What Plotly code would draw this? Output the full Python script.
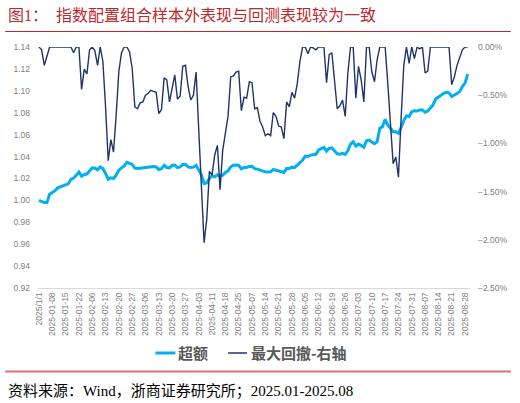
import plotly.graph_objects as go

# tick labels on the category axis (one every 5 trading days)
tick_labels = [
    "2025/1/1", "2025-01-08", "2025-01-15", "2025-01-22", "2025-02-06",
    "2025-02-13", "2025-02-20", "2025-02-27", "2025-03-06", "2025-03-13",
    "2025-03-20", "2025-03-27", "2025-04-03", "2025-04-11", "2025-04-18",
    "2025-04-25", "2025-05-07", "2025-05-14", "2025-05-21", "2025-05-28",
    "2025-06-05", "2025-06-12", "2025-06-19", "2025-06-26", "2025-07-03",
    "2025-07-10", "2025-07-17", "2025-07-24", "2025-07-31", "2025-08-07",
    "2025-08-14", "2025-08-21", "2025-08-28",
]

# excess return net value (left axis)
excess = [
    1.000, 0.999, 0.998, 0.998, 1.0056, 1.0072, 1.0087, 1.0114, 1.0123, 1.0136,
    1.0145, 1.0151, 1.0191, 1.0203, 1.0230, 1.0258, 1.0221, 1.0237, 1.0240, 1.0267,
    1.0297, 1.0294, 1.0279, 1.0306, 1.0291, 1.0246, 1.0191, 1.0206, 1.0200, 1.0230,
    1.0276, 1.0297, 1.0315, 1.0347, 1.0340, 1.0328, 1.0294, 1.0290, 1.0294, 1.0297,
    1.0303, 1.0306, 1.0306, 1.0310, 1.0306, 1.0282, 1.0290, 1.0320, 1.0300, 1.0297,
    1.0320, 1.0322, 1.0300, 1.0306, 1.0328, 1.0330, 1.0306, 1.0300, 1.0303, 1.0320,
    1.0276, 1.0230, 1.0154, 1.0160, 1.0200, 1.0224, 1.0215, 1.0233, 1.0220, 1.0230,
    1.0255, 1.0270, 1.0306, 1.0320, 1.0322, 1.0320, 1.0288, 1.0300, 1.0300, 1.0310,
    1.0312, 1.0290, 1.0285, 1.0276, 1.0270, 1.0260, 1.0258, 1.0260, 1.0282, 1.0276,
    1.0270, 1.0267, 1.0255, 1.0291, 1.0290, 1.0303, 1.0300, 1.0322, 1.0343, 1.0368,
    1.0404, 1.0400, 1.0413, 1.0416, 1.0420, 1.0460, 1.0475, 1.0484, 1.0450, 1.0475,
    1.0480, 1.0450, 1.0425, 1.0422, 1.0430, 1.0420, 1.0453, 1.0514, 1.0535, 1.0496,
    1.0514, 1.0500, 1.0484, 1.0544, 1.0550, 1.0533, 1.0517, 1.0535, 1.0658, 1.0673,
    1.0740, 1.0688, 1.0658, 1.0627, 1.0627, 1.0612, 1.0667, 1.0728, 1.0770, 1.0765,
    1.0810, 1.0818, 1.0815, 1.0826, 1.0826, 1.0805, 1.0815, 1.0847, 1.0872, 1.0926,
    1.0942, 1.0966, 1.0978, 1.0987, 1.0982, 1.0948, 1.0960, 1.0975, 1.0993, 1.1039,
    1.1070, 1.1153,
]

# max drawdown in percent (right axis)
drawdown_pct = [
    0, -0.03, -0.19, -0.09, 0, 0, 0, 0, 0, 0,
    0, 0, 0, -0.06, 0, 0, -0.44, -0.23, -0.28, -0.03,
    0, -0.04, -0.19, 0, -0.15, -0.62, -1.18, -0.96, -1.09, -0.70,
    -0.25, -0.06, 0, 0, -0.05, -0.22, -0.62, -0.64, -0.58, -0.57,
    -0.50, -0.48, -0.45, -0.46, -0.47, -0.69, -0.65, -0.32, -0.34, -0.57,
    -0.41, -0.29, -0.54, -0.51, -0.20, -0.19, -0.41, -0.55, -0.50, -0.26,
    -0.86, -1.41, -2.03, -1.79, -1.29, -1.33, -1.12, -1.02, -1.48, -1.07,
    -0.90, -0.72, -0.31, -0.30, -0.26, -0.25, -0.66, -0.52, -0.53, -0.36,
    -0.37, -0.64, -0.63, -0.77, -0.83, -0.92, -0.90, -0.92, -0.68, -0.72,
    -0.82, -0.83, -0.95, -0.57, -0.62, -0.47, -0.53, -0.38, -0.15, 0,
    0, -0.07, 0, -0.01, -0.03, 0, 0, 0, -0.37, -0.08,
    -0.06, -0.34, -0.64, -0.61, -0.55, -0.72, -0.27, 0, 0, -0.53,
    -0.20, -0.34, -0.57, 0, 0, -0.26, -0.36, -0.13, 0, 0,
    0, -0.38, -0.83, -1.21, -1.14, -1.35, -0.74, -0.19, 0, -0.17,
    0, -0.12, 0, -0.02, 0, -0.27, -0.25, 0, 0, 0,
    0, 0, 0, 0, 0, -0.39, -0.31, -0.19, -0.10, -0.03,
    0, 0,
]

x = list(range(len(excess)))
drawdown = [v / 100 for v in drawdown_pct]

blue = "#00B0F0"
navy = "#1F3468"
grey = "#7F7F7F"

fig = go.Figure()
fig.add_trace(go.Scatter(x=x, y=excess, mode="lines", name="超额",
                         line=dict(color=blue, width=3), showlegend=False))
fig.add_trace(go.Scatter(x=x, y=drawdown, mode="lines", name="最大回撤-右轴",
                         yaxis="y2", line=dict(color=navy, width=1.4),
                         showlegend=False))

tick_font = dict(family="Liberation Sans, Arial", size=8.5, color=grey)

fig.update_layout(
    width=520,
    height=403,
    autosize=False,
    margin=dict(l=38, r=48, t=47, b=115),
    paper_bgcolor="white",
    plot_bgcolor="white",
    xaxis=dict(
        range=[-0.37, 161.87],
        tickvals=list(range(0, 5 * len(tick_labels), 5)),
        ticktext=tick_labels,
        tickangle=-90,
        tickfont=tick_font,
        showgrid=False,
        zeroline=False,
        showline=True,
        linecolor="#D9D9D9",
        linewidth=1,
        ticks="",
    ),
    yaxis=dict(
        range=[0.92, 1.14],
        dtick=0.02,
        tickformat=".2f",
        tickfont=tick_font,
        showgrid=False,
        zeroline=False,
        ticks="",
        ticklabelstandoff=7,
    ),
    yaxis2=dict(
        range=[-0.025, 0],
        dtick=0.005,
        tickformat=".2%",
        tickfont=tick_font,
        overlaying="y",
        side="right",
        showgrid=False,
        zeroline=False,
        ticks="",
        ticklabelstandoff=7,
    ),
)

# paper coordinates from pixel positions of the 520x403 canvas
def px(v):
    return (v - 38) / 434


def py(v):
    return (288 - v) / 241


cjk = "Liberation Serif, Noto Sans CJK SC"
title_red = "#C0272D"

# title and the red rule under it
fig.add_annotation(x=px(6), y=py(15), xref="paper", yref="paper", text="图1：",
                   showarrow=False, xanchor="left", yanchor="middle",
                   font=dict(family=cjk, size=16, color=title_red))
fig.add_annotation(x=px(54), y=py(15), xref="paper", yref="paper",
                   text="指数配置组合样本外表现与回测表现较为一致",
                   showarrow=False, xanchor="left", yanchor="middle",
                   font=dict(family=cjk, size=16, color=title_red))
fig.add_shape(type="line", xref="paper", yref="paper", x0=px(5), x1=px(513),
              y0=py(31.5), y1=py(31.5), line=dict(color=title_red, width=1))

# hand-drawn legend
legend_font = dict(family="Noto Sans CJK SC", size=15, color="#595959")
fig.add_shape(type="line", xref="paper", yref="paper", x0=px(156), x1=px(176),
              y0=py(353), y1=py(353), line=dict(color=blue, width=3))
fig.add_annotation(x=px(177), y=py(352), xref="paper", yref="paper",
                   text="<b>超额</b>", showarrow=False, xanchor="left",
                   yanchor="middle", font=legend_font)
fig.add_shape(type="line", xref="paper", yref="paper", x0=px(229), x1=px(248),
              y0=py(353), y1=py(353), line=dict(color=navy, width=1.5))
fig.add_annotation(x=px(250), y=py(352), xref="paper", yref="paper",
                   text="<b>最大回撤-右轴</b>", showarrow=False, xanchor="left",
                   yanchor="middle", font=legend_font)

# source line
fig.add_shape(type="line", xref="paper", yref="paper", x0=px(5), x1=px(513),
              y0=py(371.5), y1=py(371.5), line=dict(color="#E07070", width=2))
fig.add_annotation(x=px(6), y=py(391), xref="paper", yref="paper",
                   text="资料来源：Wind，浙商证券研究所；2025.01-2025.08",
                   showarrow=False, xanchor="left", yanchor="middle",
                   font=dict(family=cjk, size=15, color="#000000"))

# drop the browser's default body margin so the figure sits at the page corner
fig.write_html("out.html", config={"displayModeBar": False},
               post_script="document.body.style.margin = '0';")
